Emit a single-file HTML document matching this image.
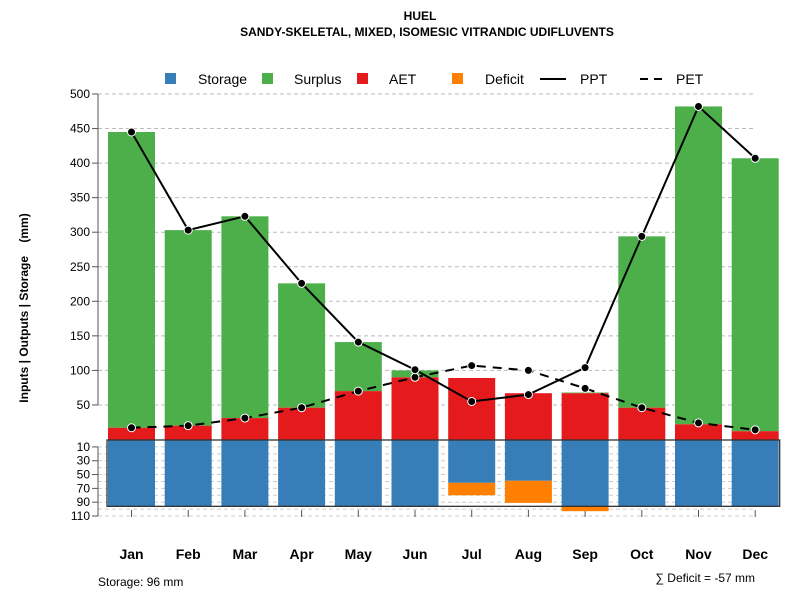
<!DOCTYPE html>
<html><head><meta charset="utf-8"><style>
body{margin:0;background:#fff}
svg{font-family:"Liberation Sans",Arial,sans-serif}
</style></head><body>
<svg id="c" width="800" height="600">
<text x="420" y="20" text-anchor="middle" font-size="12" font-weight="bold">HUEL</text>
<text x="427" y="36" text-anchor="middle" font-size="12" font-weight="bold">SANDY-SKELETAL, MIXED, ISOMESIC VITRANDIC UDIFLUVENTS</text>
<text transform="translate(28,308) rotate(-90)" text-anchor="middle" font-size="12" font-weight="bold" style="white-space:pre">Inputs | Outputs | Storage    (mm)</text>
<g>
<rect x="165" y="73" width="11" height="11" fill="#377eb8"/>
<text x="198" y="84" font-size="14">Storage</text>
<rect x="262" y="73" width="11" height="11" fill="#4daf4a"/>
<text x="294" y="84" font-size="14">Surplus</text>
<rect x="357" y="73" width="11" height="11" fill="#e41a1c"/>
<text x="389" y="84" font-size="14">AET</text>
<rect x="452" y="73" width="11" height="11" fill="#ff7f00"/>
<text x="485" y="84" font-size="14">Deficit</text>
<line x1="540" y1="79" x2="566" y2="79" stroke="#000" stroke-width="2"/>
<text x="580" y="84" font-size="14">PPT</text>
<line x1="640" y1="79" x2="666" y2="79" stroke="#000" stroke-width="2" stroke-dasharray="8,6"/>
<text x="676" y="84" font-size="14">PET</text>
</g>
<text x="98" y="586" font-size="12">Storage: 96 mm</text>
<text x="755" y="582" text-anchor="end" font-size="12">∑ Deficit = -57 mm</text>
</svg>
<script>
const months=["Jan","Feb","Mar","Apr","May","Jun","Jul","Aug","Sep","Oct","Nov","Dec"];
const ppt=[445,303,323,226,141,101,55,65,104,294,482,407];
const pet=[17,20,31,46,70,90,107,100,74,46,24,14];
const aet=[17,20,31,46,70,90,89,67,67,46,22,12];
const surplus=[428,283,292,180,71,10,0,0,1,248,460,395];
const storage=[96,96,96,96,96,96,62,59,96,96,96,96];
const deficit=[0,0,0,0,0,0,18,32,7,0,0,0];
const upperTicks=[50,100,150,200,250,300,350,400,450,500];
const lowerTicks=[10,30,50,70,90,110];
const svg=document.getElementById('c');
const NS="http://www.w3.org/2000/svg";
const K=0.691;
const yU=v=>439.5-v*K;
const yL=v=>440+v*K;
const xC=i=>131.5+i*56.7;
const BW=47;
function mk(t,a,p){const e=document.createElementNS(NS,t);for(const k in a)e.setAttribute(k,a[k]);(p||svg).appendChild(e);return e;}
const grid=mk('g',{});


upperTicks.forEach(v=>{
  const l=mk('line',{x1:98,x2:755,y1:yU(v),y2:yU(v),stroke:'#bbb','stroke-dasharray':'4,3'},grid);
  
  
});
for(let v=10;v<=110;v+=10){
  const l=mk('line',{x1:98,x2:755,y1:yL(v),y2:yL(v),stroke:'#ccc','stroke-dasharray':'4,3'},grid);
  
  
}
const ax=mk('g',{});


mk('line',{x1:98,x2:98,y1:yU(500),y2:yU(50),stroke:'#555'},ax);
mk('line',{x1:98,x2:98,y1:yL(10),y2:yL(110),stroke:'#555'},ax);
upperTicks.forEach(v=>{
  mk('line',{x1:92,x2:98,y1:yU(v),y2:yU(v),stroke:'#555'},ax);
  const t=mk('text',{x:90,y:yU(v)+4,'text-anchor':'end','font-size':12},ax);t.textContent=v;
  
  
});
lowerTicks.forEach(v=>{
  mk('line',{x1:92,x2:98,y1:yL(v),y2:yL(v),stroke:'#555'},ax);
  const t=mk('text',{x:90,y:yL(v)+4,'text-anchor':'end','font-size':12},ax);t.textContent=v;
  
  
});
const bars=mk('g',{});


months.forEach((m,i)=>{
  const x=xC(i)-BW/2;
  if(surplus[i]>0){
    const sp=mk('rect',{x:x,y:yU(aet[i]+surplus[i]),width:BW,height:surplus[i]*K,fill:'#4daf4a'},bars);
    
    
  }
  const a=mk('rect',{x:x,y:yU(aet[i]),width:BW,height:aet[i]*K,fill:'#e41a1c'},bars);
  
  
  const s=mk('rect',{x:x,y:yL(0),width:BW,height:storage[i]*K,fill:'#377eb8'},bars);
  
  
  if(deficit[i]>0){
    const d=mk('rect',{x:x,y:yL(storage[i]),width:BW,height:deficit[i]*K,fill:'#ff7f00'},bars);
    
    
  }
  mk('line',{x1:xC(i),x2:xC(i),y1:510,y2:517,stroke:'#555'},ax);
  const t=mk('text',{x:xC(i),y:559,'text-anchor':'middle','font-size':14,'font-weight':'bold'},ax);t.textContent=m;
  
  
});
const box=mk('rect',{x:xC(0)-BW/2-1,y:yL(0),width:xC(11)-xC(0)+BW+2,height:96*K,fill:'none',stroke:'#333','stroke-width':1.3});


function series(vals,dash,name){
  const pts=vals.map((v,i)=>xC(i)+','+yU(v)).join(' ');
  const g=mk('g',{});
  
  
  const a={points:pts,fill:'none',stroke:'#000','stroke-width':2};
  if(dash)a['stroke-dasharray']='9,7';
  mk('polyline',a,g);
  vals.forEach((v,i)=>{
    const c=mk('circle',{cx:xC(i),cy:yU(v),r:4,fill:'#000',stroke:'#fff','stroke-width':1},g);
    
    
  });
}
series(pet,true,'pet-line');
series(ppt,false,'ppt-line');
</script>
</body></html>
